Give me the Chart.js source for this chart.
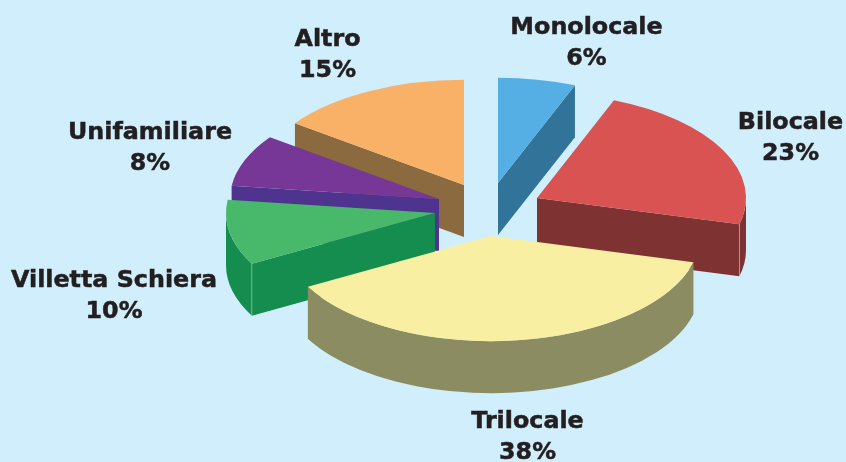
<!DOCTYPE html>
<html lang="it">
<head>
<meta charset="utf-8">
<title>Tipologia</title>
<script src="https://cdn.jsdelivr.net/npm/chart.js@4"></script>
<style>
    html, body { margin: 0; padding: 0; background: #d0eefb; }
    canvas { display: block; }
</style>
</head>
<body>
<canvas id="pieChart" width="846" height="462"></canvas>
<script>
// Chart data
const categories = ['Monolocale', 'Bilocale', 'Trilocale', 'Villetta Schiera', 'Unifamiliare', 'Altro'];
const percentages = [6, 23, 38, 10, 8, 15];

// Colours: top of each slice, then its side
const topColors = ['#55aee4', '#d95353', '#f8efa3', '#48b86b', '#763796', '#f8b166'];
const sideColors = ['#317399', '#7e3232', '#8c8c63', '#158d4f', '#4f348f', '#8a6a3e'];

// Fake 3D settings
const tilt = 0.503;
const depth = 52;
const labelFont = 'bold 23.8px "DejaVu Sans", Verdana, sans-serif';
const labelColor = '#231f20';
const lineGap = 30.5;

// How far each slice is pulled away from the chart centre (px)
const sliceShifts = [[75, -48], [114, -33], [68, 5], [12, -18], [16, -32], [41, -46]];
// Label centres (px), first line baseline middle
const labelPositions = [[586.5, 28], [790.5, 123], [527.5, 422], [114, 281], [150, 133], [327.5, 40]];
// Painter's order, back to front
const drawOrder = [5, 4, 3, 0, 1, 2];

// Side face of a cut edge, going from the centre to the rim
function drawCutFace(ctx, cx, cy, rx, ry, angle, color) {
    const px = cx + Math.cos(angle) * rx;
    const py = cy + Math.sin(angle) * ry;
    ctx.beginPath();
    ctx.moveTo(cx, cy);
    ctx.lineTo(px, py);
    ctx.lineTo(px, py + depth);
    ctx.lineTo(cx, cy + depth);
    ctx.closePath();
    ctx.fillStyle = color;
    ctx.fill();
}

// Curved outer wall, only the part that faces the viewer
function drawOuterWall(ctx, cx, cy, rx, ry, start, end, color) {
    const from = Math.max(start, 0);
    const to = Math.min(end, Math.PI);
    if (to <= from) return;
    ctx.beginPath();
    ctx.ellipse(cx, cy, rx, ry, 0, from, to);
    ctx.ellipse(cx, cy + depth, rx, ry, 0, to, from, true);
    ctx.closePath();
    ctx.fillStyle = color;
    ctx.fill();
}

// Thin light line where a cut face meets the curved wall
function drawSeam(ctx, cx, cy, rx, ry, angle) {
    const px = cx + Math.cos(angle) * rx;
    const py = cy + Math.sin(angle) * ry;
    ctx.beginPath();
    ctx.moveTo(px, py);
    ctx.lineTo(px, py + depth);
    ctx.strokeStyle = 'rgba(255, 255, 255, 0.35)';
    ctx.lineWidth = 1;
    ctx.stroke();
}

const pie3d = {
    id: 'pie3d',
    beforeDatasetsDraw(chart) {
        const ctx = chart.ctx;
        const arcs = chart.getDatasetMeta(0).data;

        drawOrder.forEach(i => {
            const arc = arcs[i];
            const cx = arc.x + sliceShifts[i][0];
            const cy = arc.y + sliceShifts[i][1];
            const rx = arc.outerRadius;
            const ry = rx * tilt;
            const start = arc.startAngle;
            const end = arc.endAngle;
            const side = sideColors[i];

            // A cut edge shows only if the slice lies above it on screen
            const startVisible = Math.cos(start) < 0;
            const endVisible = Math.cos(end) > 0;
            if (startVisible) drawCutFace(ctx, cx, cy, rx, ry, start, side);
            if (endVisible) drawCutFace(ctx, cx, cy, rx, ry, end, side);
            drawOuterWall(ctx, cx, cy, rx, ry, start, end, side);
            if (startVisible && Math.sin(start) > 0) drawSeam(ctx, cx, cy, rx, ry, start);
            if (endVisible && Math.sin(end) > 0) drawSeam(ctx, cx, cy, rx, ry, end);

            // Top of the slice, drawn by the arc element itself
            ctx.save();
            ctx.translate(cx, cy);
            ctx.scale(1, tilt);
            ctx.translate(-arc.x, -arc.y);
            arc.draw(ctx);
            ctx.restore();
        });
        return false;
    },
    afterDraw(chart) {
        const ctx = chart.ctx;
        ctx.save();
        ctx.font = labelFont;
        ctx.fillStyle = labelColor;
        ctx.strokeStyle = labelColor;
        ctx.lineWidth = 0.5;
        ctx.textAlign = 'center';
        ctx.textBaseline = 'middle';
        categories.forEach((name, i) => {
            const [x, y] = labelPositions[i];
            const pct = percentages[i] + '%';
            ctx.fillText(name, x, y);
            ctx.strokeText(name, x, y);
            ctx.fillText(pct, x, y + lineGap);
            ctx.strokeText(pct, x, y + lineGap);
        });
        ctx.restore();
    }
};

// Initialize chart
new Chart(document.getElementById('pieChart').getContext('2d'), {
    type: 'pie',
    data: {
        labels: categories,
        datasets: [{
            data: percentages,
            backgroundColor: topColors,
            borderWidth: 0
        }]
    },
    options: {
        responsive: false,
        animation: false,
        radius: 209,
        plugins: {
            legend: { display: false },
            tooltip: { enabled: false }
        }
    },
    plugins: [pie3d]
});
</script>
</body>
</html>
